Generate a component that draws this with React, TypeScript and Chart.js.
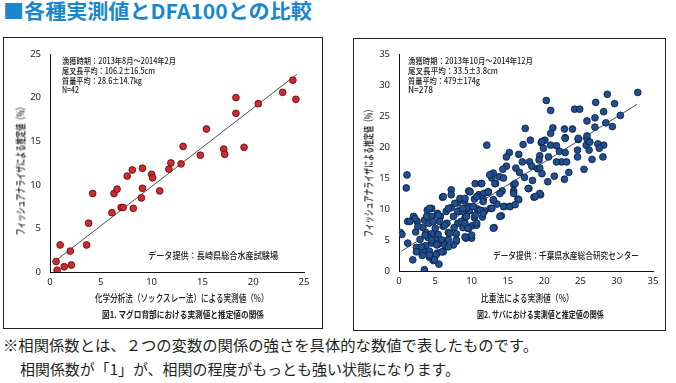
import React, { useEffect, useRef } from "react";
import { Chart, registerables } from "chart.js";

Chart.register(...registerables);

// ---- Data ----
const maguroX = [0.6, 0.7, 1.0, 1.4, 2.0, 2.1, 3.6, 3.8, 4.2, 6.1, 6.3, 6.6, 7.0, 7.2, 7.6, 8.1, 8.2, 9.0, 9.1, 9.1, 10.0, 10.1, 10.8, 11.7, 11.9, 12.9, 13.1, 14.8, 15.4, 17.1, 17.2, 18.3, 18.3, 19.1, 20.5, 22.9, 23.9, 24.2];
const maguroY = [1.2, 0.2, 3.1, 0.6, 2.4, 0.8, 3.1, 5.6, 9.0, 6.8, 9.0, 9.5, 7.4, 7.4, 11.0, 11.7, 7.3, 8.5, 9.6, 11.9, 11.2, 10.8, 9.3, 11.8, 12.5, 12.4, 14.4, 13.4, 16.4, 14.1, 13.5, 20.0, 18.2, 14.3, 19.3, 20.6, 22.0, 19.8];
const maguroTrendX = [0.4, 24.3];
const maguroTrendCoef = [0.9, 0.8]; // slope, intercept

const sabaX = [
  32.9, 28.7, 29.7, 27.1, 20.3, 24.2, 24.9, 20.9, 30.5, 27.0, 25.9, 28.5, 29.4, 27.0, 23.9, 22.8, 21.2, 17.4, 20.9, 28.2,
  25.9, 24.7, 22.9, 20.1, 18.1, 12.1, 20.9, 21.7, 25.8, 27.4, 28.2, 26.3, 19.6, 17.1, 19.9, 22.1, 22.9, 27.6, 26.2, 24.6,
  15.2, 16.5, 20.6, 19.4, 24.6, 28.1, 26.6, 17.0, 18.0, 19.3, 22.4, 23.1, 21.7, 18.3, 14.8, 16.1, 19.1, 19.4, 25.5, 19.7,
  23.4, 16.6, 21.4, 14.3, 12.8, 13.8, 22.8, 17.3, 20.5, 18.4, 12.8, 1.1, 1.0, 17.9, 10.5, 11.3, 15.8, 13.3, 14.2, 15.8,
  12.3, 9.7, 7.2, 18.6, 19.5, 16.4, 11.0, 11.7, 6.0, 7.2, 10.4, 8.1, 9.0, 11.6, 13.0, 13.5, 14.5, 15.3, 14.1, 13.1,
  9.6, 9.7, 10.8, 11.8, 12.6, 8.8, 8.2, 6.5, 7.2, 4.5, 3.9, 5.3, 5.7, 7.5, 9.1, 10.4, 11.5, 2.0, 4.5, 3.5,
  1.2, 2.5, 4.1, 5.6, 6.6, 8.1, 6.1, 7.6, 8.8, 9.6, 10.1, 10.7, 3.3, 5.0, 0.2, 0.4, 2.3, 3.7, 4.5, 5.4,
  6.8, 7.9, 9.3, 10.0, 7.9, 4.0, 2.9, 5.0, 5.9, 6.8, 1.2, 2.4, 3.7, 4.5, 5.4, 6.3, 7.5, 3.3, 4.2, 5.3,
  6.1, 3.2, 4.2, 5.1, 1.9, 4.7, 5.5, 3.5,
  4.2, 4.9, 5.9, 6.8, 7.9, 9.2, 9.5, 8.6, 8.1, 6.1, 8.4, 9.6, 4.2, 3.8, 2.2, 1.5, 2.6, 3.6, 4.5, 5.2,
  3.1, 2.4, 6.3, 7.0, 5.4, 4.7, 6.8, 8.8, 7.7, 9.3,
  14.8, 13.0, 12.5, 14.4, 16.0, 11.4, 13.2, 17.8, 9.8, 12.3, 13.9, 15.8, 19.4, 18.8, 10.7, 9.1, 11.6, 13.0, 14.4, 15.3,
  16.5, 16.0, 10.2, 8.8, 11.2, 12.8, 9.3, 10.5, 11.6, 13.9, 9.1, 10.7, 9.5, 13.0, 10.0, 9.1,
  25.9, 24.7, 22.9, 19.7
];
const sabaY = [
  28.8, 28.5, 27.0, 27.2, 27.5, 26.1, 26.1, 25.9, 25.1, 24.7, 24.2, 23.9, 23.3, 23.2, 22.9, 22.9, 23.1, 23.0, 22.2, 25.7,
  21.3, 21.2, 21.5, 21.1, 21.1, 20.3, 20.3, 20.2, 20.3, 20.5, 20.3, 20.8, 20.7, 20.4, 19.8, 19.3, 19.1, 19.8, 19.5, 19.5,
  19.1, 18.8, 18.4, 18.6, 18.4, 18.4, 18.0, 17.6, 17.6, 17.9, 17.6, 17.6, 17.6, 16.9, 16.9, 16.6, 16.5, 16.6, 16.4, 15.7,
  15.9, 15.9, 15.3, 16.4, 15.6, 15.2, 14.8, 15.1, 14.4, 14.6, 15.0, 15.5, 13.4, 13.3, 14.1, 14.1, 13.9, 14.1, 12.9, 12.9,
  12.7, 12.8, 13.1, 11.9, 12.3, 11.6, 12.3, 12.5, 11.9, 12.3, 11.6, 11.0, 11.3, 11.6, 11.4, 10.8, 10.4, 10.4, 8.9, 7.0,
  10.4, 9.7, 10.0, 9.7, 10.1, 9.6, 9.7, 9.6, 10.2, 10.1, 9.8, 9.3, 8.8, 8.8, 8.6, 8.6, 8.7, 8.8, 8.8, 8.2,
  8.0, 8.0, 7.7, 8.0, 7.7, 7.7, 7.2, 7.0, 7.0, 6.9, 7.3, 7.4, 7.0, 6.9, 6.2, 5.9, 6.3, 6.2, 6.0, 5.9,
  6.2, 6.0, 5.4, 5.3, 4.8, 5.4, 5.1, 5.0, 5.0, 5.1, 4.5, 3.8, 4.1, 4.5, 4.3, 4.2, 4.2, 3.2, 3.2, 2.9,
  3.1, 2.5, 2.2, 2.6, 1.8, 1.7, 1.1, 0.2,
  2.6, 1.8, 3.1, 3.9, 5.0, 5.3, 6.9, 8.0, 9.6, 12.0, 11.7, 12.9, 10.1, 8.8, 8.5, 8.0, 7.2, 5.8, 5.0, 4.2,
  3.9, 3.1, 7.4, 6.1, 9.0, 8.0, 10.1, 9.6, 10.9, 10.1,
  18.4, 15.8, 15.5, 15.0, 14.1, 14.1, 14.1, 13.3, 12.8, 12.8, 12.5, 12.5, 12.5, 12.0, 12.0, 11.7, 11.2, 11.5, 10.4, 10.4,
  11.5, 10.7, 10.4, 10.1, 9.8, 10.1, 8.8, 9.0, 9.3, 8.8, 7.7, 7.7, 6.9, 6.9, 5.8, 5.5,
  21.8, 21.4, 21.4, 20.9
];
const sabaTrendX = [0.3, 32.8];
const sabaTrendCoef = [0.73, 2.95]; // slope, intercept

const maguroAxisMax = 25;
const sabaAxisMax = 35;
const tickStep = 5;

const maguroNotes = ["漁獲時期：2013年8月～2014年2月", "尾叉長平均：106.2±16.5cm", "質量平均：28.6±14.7kg", "N=42"];
const sabaNotes = ["漁獲時期：2013年10月～2014年12月", "尾叉長平均：33.5±3.8cm", "質量平均：479±174g", "N=278"];

const FONT = '"Noto Sans CJK JP", "Noto Sans", sans-serif';

let measureCtx: CanvasRenderingContext2D | null = null;
function measure(text: string, font: string): number {
  if (!measureCtx) measureCtx = document.createElement("canvas").getContext("2d");
  measureCtx!.font = font;
  return measureCtx!.measureText(text).width;
}

type TProps = {
  text: string;
  left?: number;
  cx?: number;
  cy: number;
  size: number;
  width?: number;
  weight?: number;
  color?: string;
  rotate?: boolean;
};

function T({ text, left, cx, cy, size, width, weight = 400, color = "#222", rotate = false }: TProps) {
  const font = `${weight} ${size}px ${FONT}`;
  const natural = measure(text, font);
  const sx = width ? width / natural : 1;
  const lh = Math.round(size * 1.5);
  const base: React.CSSProperties = {
    position: "absolute",
    whiteSpace: "nowrap",
    fontFamily: FONT,
    fontSize: size,
    fontWeight: weight,
    color,
    lineHeight: lh + "px",
    height: lh,
    width: natural,
  };
  if (rotate) {
    return (
      <div
        style={{
          ...base,
          left: (cx as number) - natural / 2,
          top: cy - lh / 2,
          transformOrigin: "50% 50%",
          transform: `rotate(-90deg) scaleX(${sx})`,
        }}
      >
        {text}
      </div>
    );
  }
  const w = natural * sx;
  const l = left !== undefined ? left : (cx as number) - w / 2;
  return (
    <div
      style={{
        ...base,
        left: l,
        top: cy - lh / 2 - 0.056 * size,
        transformOrigin: "0 50%",
        transform: `scaleX(${sx})`,
      }}
    >
      {text}
    </div>
  );
}

type SProps = {
  left: number;
  top: number;
  width: number;
  height: number;
  area: { left: number; right: number; top: number; bottom: number };
  xs: number[];
  ys: number[];
  trendX: number[];
  trendCoef: number[];
  max: number;
  fill: string;
  stroke: string;
};

function ScatterChart({ left, top, width, height, area, xs, ys, trendX, trendCoef, max, fill, stroke }: SProps) {
  const ref = useRef<HTMLCanvasElement | null>(null);
  useEffect(() => {
    if (!ref.current) return;
    const pts = xs.map((x, i) => ({ x, y: ys[i] }));
    const line = trendX.map((x) => ({ x, y: trendCoef[0] * x + trendCoef[1] }));
    const tickFont = { family: '"Noto Sans", sans-serif', size: 9.5 };
    const chart = new Chart(ref.current, {
      type: "scatter",
      data: {
        datasets: [
          {
            data: pts,
            backgroundColor: fill,
            borderColor: stroke,
            borderWidth: 0.8,
            pointRadius: 3.4,
            pointHoverRadius: 3.4,
          },
          {
            type: "line",
            data: line,
            borderColor: "#222",
            borderWidth: 0.8,
            pointRadius: 0,
            fill: false,
            showLine: true,
          } as any,
        ],
      },
      options: {
        responsive: false,
        animation: false,
        devicePixelRatio: 1,
        events: [],
        plugins: { legend: { display: false }, tooltip: { enabled: false } },
        layout: { padding: { top: area.top, right: width - area.right, left: 0, bottom: 0 } },
        scales: {
          x: {
            type: "linear",
            min: 0,
            max,
            ticks: { stepSize: tickStep, padding: 5, color: "#222", font: tickFont, maxRotation: 0 },
            grid: { drawOnChartArea: false, drawTicks: false },
            border: { color: "#111", width: 1 },
            afterFit: (s: any) => {
              s.height = height - area.bottom;
            },
          },
          y: {
            type: "linear",
            min: 0,
            max,
            ticks: { stepSize: tickStep, padding: 9, color: "#222", font: tickFont },
            grid: { drawOnChartArea: false, drawTicks: false },
            border: { color: "#111", width: 1 },
            afterFit: (s: any) => {
              s.width = area.left;
            },
          },
        },
      } as any,
    });
    return () => chart.destroy();
  }, []);
  return (
    <canvas
      ref={ref}
      width={width}
      height={height}
      style={{ position: "absolute", left, top, width, height }}
    />
  );
}

export default function App() {
  const noteYs = [60.7, 70.7, 80.7, 90.4];
  const maguroNoteW = [114, 93, 80, 17];
  const sabaNoteW = [125, 90, 72, 25];
  return (
    <div
      style={{
        position: "absolute",
        left: 0,
        top: 0,
        width: 676,
        height: 383,
        background: "#fff",
        overflow: "hidden",
        fontFamily: FONT,
      }}
    >
      <T text="■各種実測値とDFA100との比較" left={3} cy={12.5} size={20} width={309} weight={700} color="#1a87cd" />

      {/* Left panel */}
      <div style={{ position: "absolute", left: 3, top: 37, width: 318, height: 290, border: "1px solid #222" }} />
      <ScatterChart
        left={4}
        top={38}
        width={317}
        height={289}
        area={{ left: 46, right: 300, top: 16, bottom: 234 }}
        xs={maguroX}
        ys={maguroY}
        trendX={maguroTrendX}
        trendCoef={maguroTrendCoef}
        max={maguroAxisMax}
        fill="#d3282c"
        stroke="#4f0b0b"
      />
      {maguroNotes.map((s, i) => (
        <T key={s} text={s} left={61.7} cy={noteYs[i]} size={8.5} width={maguroNoteW[i]} weight={500} />
      ))}
      <T text="データ提供：長崎県総合水産試験場" left={148} cy={256} size={9.5} width={130} weight={500} />
      <T text="化学分析法（ソックスレー法）による実測値（%）" cx={182} cy={298} size={10} width={174} weight={500} />
      <T text="図1. マグロ背部における実測値と推定値の関係" cx={182.5} cy={316} size={9} width={162} weight={700} />
      <T text="フィッシュアナライザによる推定値（%）" cx={20} cy={168.5} size={10.5} width={133} weight={500} color="#111" rotate />

      {/* Right panel */}
      <div style={{ position: "absolute", left: 353, top: 38, width: 311, height: 291, border: "1px solid #222" }} />
      <ScatterChart
        left={354}
        top={39}
        width={310}
        height={290}
        area={{ left: 45, right: 299, top: 15, bottom: 232 }}
        xs={sabaX}
        ys={sabaY}
        trendX={sabaTrendX}
        trendCoef={sabaTrendCoef}
        max={sabaAxisMax}
        fill="#1f4f90"
        stroke="#0b1d3b"
      />
      {sabaNotes.map((s, i) => (
        <T key={s} text={s} left={408.3} cy={noteYs[i]} size={8.5} width={sabaNoteW[i]} weight={500} />
      ))}
      <T text="データ提供：千葉県水産総合研究センター" left={493} cy={256} size={9.5} width={146} weight={500} />
      <T text="比重法による実測値（%）" cx={527} cy={298} size={10} width={93} weight={500} />
      <T text="図2. サバにおける実測値と推定値の関係" cx={540} cy={316} size={9} width={127} weight={700} />
      <T text="フィッシュアナライザによる推定値（%）" cx={368} cy={171} size={10.5} width={132} weight={500} color="#111" rotate />

      {/* Footnote */}
      <T text="※相関係数とは、２つの変数の関係の強さを具体的な数値で表したものです。" left={3} cy={345} size={15} width={535} color="#231f20" />
      <T text="相関係数が「1」が、相関の程度がもっとも強い状態になります。" left={20} cy={369} size={15} width={440} color="#231f20" />
    </div>
  );
}
